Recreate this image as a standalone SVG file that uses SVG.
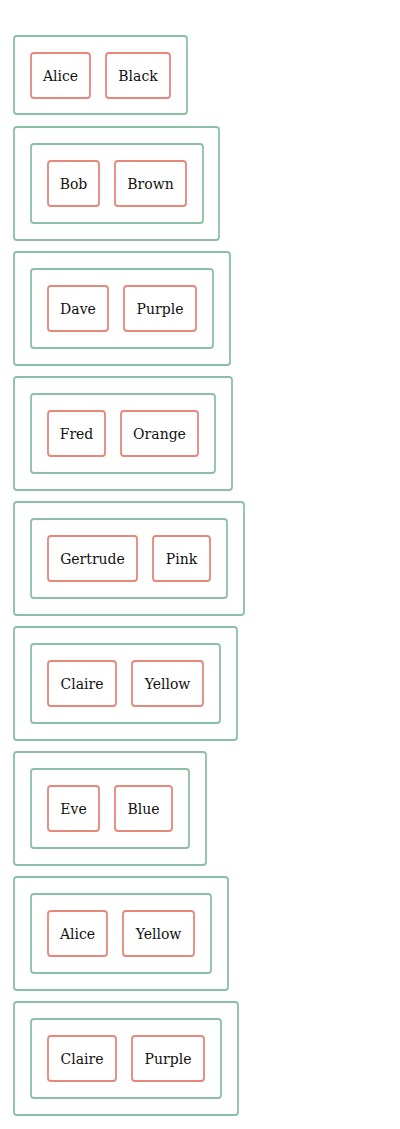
<svg xmlns="http://www.w3.org/2000/svg" width="400" height="1129" viewBox="0 0 400 1129">
<style>
.c{fill:none;stroke:#8bc0a6;stroke-width:1.8}
.n{fill:#fff;stroke:#e6877b;stroke-width:1.8}
text{font-family:"DejaVu Serif","Liberation Serif",serif;font-size:14px;fill:#111;text-anchor:middle;dominant-baseline:central}
</style>
<rect width="400" height="1129" fill="#fff"/>
<g id="connectors"/>
<g id="c1"><rect class="c" x="14" y="36" width="173" height="78" rx="3"/></g>
<g id="alice1"><rect class="n" x="31" y="53" width="59" height="45" rx="3"/><text x="60.5" y="76">Alice</text></g>
<g id="black"><rect class="n" x="106" y="53" width="64" height="45" rx="3"/><text x="138" y="76">Black</text></g>

<g id="c2"><rect class="c" x="14" y="127" width="205" height="113" rx="3"/><rect class="c" x="31" y="144" width="172" height="79" rx="3"/></g>
<g id="bob"><rect class="n" x="48" y="161" width="51" height="45" rx="3"/><text x="73.5" y="184">Bob</text></g>
<g id="brown"><rect class="n" x="115" y="161" width="71" height="45" rx="3"/><text x="150.5" y="184">Brown</text></g>

<g id="c3"><rect class="c" x="14" y="252" width="216" height="113" rx="3"/><rect class="c" x="31" y="269" width="182" height="79" rx="3"/></g>
<g id="dave"><rect class="n" x="48" y="286" width="60" height="45" rx="3"/><text x="78" y="309">Dave</text></g>
<g id="purple1"><rect class="n" x="124" y="286" width="72" height="45" rx="3"/><text x="160" y="309">Purple</text></g>

<g id="c4"><rect class="c" x="14" y="377" width="218" height="113" rx="3"/><rect class="c" x="31" y="394" width="184" height="79" rx="3"/></g>
<g id="fred"><rect class="n" x="48" y="411" width="57" height="45" rx="3"/><text x="76.5" y="434">Fred</text></g>
<g id="orange"><rect class="n" x="121" y="411" width="77" height="45" rx="3"/><text x="159.5" y="434">Orange</text></g>

<g id="c5"><rect class="c" x="14" y="502" width="230" height="113" rx="3"/><rect class="c" x="31" y="519" width="196" height="79" rx="3"/></g>
<g id="gertrude"><rect class="n" x="48" y="536" width="89" height="45" rx="3"/><text x="92.5" y="559">Gertrude</text></g>
<g id="pink"><rect class="n" x="153" y="536" width="57" height="45" rx="3"/><text x="181.5" y="559">Pink</text></g>

<g id="c6"><rect class="c" x="14" y="627" width="223" height="113" rx="3"/><rect class="c" x="31" y="644" width="189" height="79" rx="3"/></g>
<g id="claire1"><rect class="n" x="48" y="661" width="68" height="45" rx="3"/><text x="82" y="684">Claire</text></g>
<g id="yellow1"><rect class="n" x="132" y="661" width="71" height="45" rx="3"/><text x="167.5" y="684">Yellow</text></g>

<g id="c7"><rect class="c" x="14" y="752" width="192" height="113" rx="3"/><rect class="c" x="31" y="769" width="158" height="79" rx="3"/></g>
<g id="eve"><rect class="n" x="48" y="786" width="51" height="45" rx="3"/><text x="73.5" y="809">Eve</text></g>
<g id="blue"><rect class="n" x="115" y="786" width="57" height="45" rx="3"/><text x="143.5" y="809">Blue</text></g>

<g id="c8"><rect class="c" x="14" y="877" width="214" height="113" rx="3"/><rect class="c" x="31" y="894" width="180" height="79" rx="3"/></g>
<g id="alice2"><rect class="n" x="48" y="911" width="59" height="45" rx="3"/><text x="77.5" y="934">Alice</text></g>
<g id="yellow2"><rect class="n" x="123" y="911" width="71" height="45" rx="3"/><text x="158.5" y="934">Yellow</text></g>

<g id="c9"><rect class="c" x="14" y="1002" width="224" height="113" rx="3"/><rect class="c" x="31" y="1019" width="190" height="79" rx="3"/></g>
<g id="claire2"><rect class="n" x="48" y="1036" width="68" height="45" rx="3"/><text x="82" y="1059">Claire</text></g>
<g id="purple2"><rect class="n" x="132" y="1036" width="72" height="45" rx="3"/><text x="168" y="1059">Purple</text></g>
</svg>
